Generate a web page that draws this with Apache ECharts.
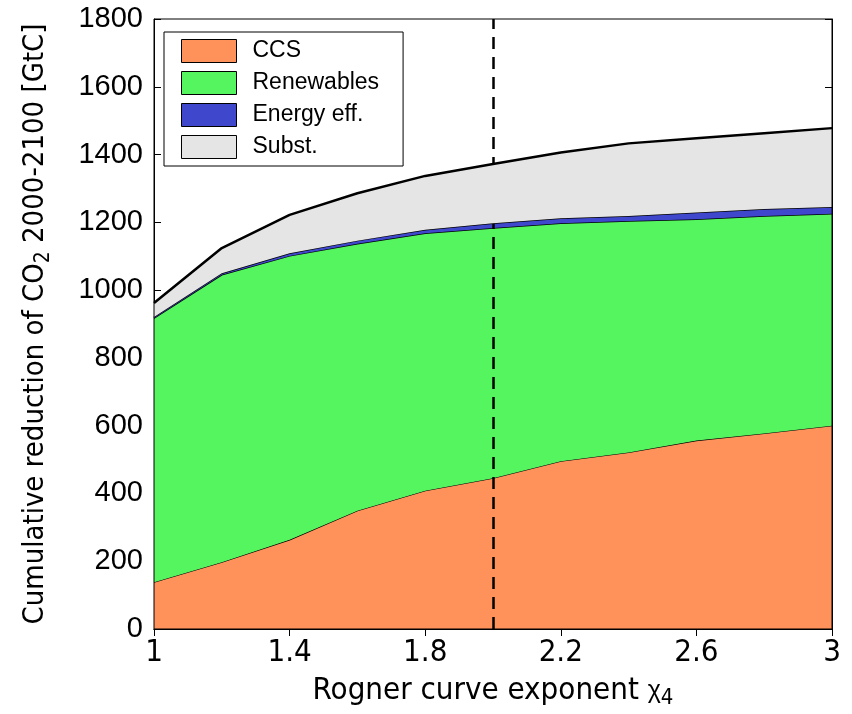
<!DOCTYPE html>
<html>
<head>
<meta charset="utf-8">
<script src="https://cdn.jsdelivr.net/npm/echarts@6/dist/echarts.min.js"></script>
<style>
html,body{margin:0;padding:0;background:#fff;}
#chart{width:852px;height:714px;}
</style>
</head>
<body>
<div id="chart"></div>
<script>
// x values: Rogner curve exponent
const exponents = ['1', '1.2', '1.4', '1.6', '1.8', '2', '2.2', '2.4', '2.6', '2.8', '3'];
// cumulative reduction components [GtC]
const ccs        = [138, 197, 263, 349, 408, 445, 495, 521, 556, 577, 600];
const renewables = [779, 848, 838, 788, 760, 738, 702, 683, 653, 642, 625];
const energyEff  = [4, 5, 8, 9, 10, 14, 15, 15, 20, 20, 20];
const subst      = [41, 74, 113, 140, 159, 175, 194, 214, 219, 224, 233];
const seriesNames = ['CCS', 'Renewables', 'Energy eff.', 'Subst.'];
const yTicks = [0, 200, 400, 600, 800, 1000, 1200, 1400, 1600, 1800];
const referenceExponent = '2';

const fills = ['#FF915A', '#55F55F', '#3F48CC', '#E5E5E5'];
const edgeWidths = [1.2, 1.5, 1.5, 2.5];
const values = [ccs, renewables, energyEff, subst];

const narrow = '"Liberation Sans Narrow", "DejaVu Sans Condensed", "Liberation Sans", Arial, sans-serif';
const normal = '"Liberation Sans", Arial, sans-serif';

const series = values.map((arr, i) => ({
  name: seriesNames[i],
  type: 'line',
  stack: 'total',
  data: arr,
  showSymbol: false,
  symbol: 'none',
  z: 2 + i,
  itemStyle: { color: fills[i] },
  lineStyle: { color: '#000', width: edgeWidths[i] },
  areaStyle: { color: fills[i], opacity: 1 },
  emphasis: { disabled: true },
  animation: false
}));

series.push({
  name: 'ref',
  type: 'line',
  data: [],
  z: 10,
  markLine: {
    silent: true,
    symbol: ['none', 'none'],
    label: { show: false },
    lineStyle: { color: '#000', width: 2.5, type: [12, 8] },
    data: [{ xAxis: referenceExponent }]
  },
  animation: false
});

const catAxisBase = {
  type: 'category',
  data: exponents,
  boundaryGap: false,
  axisLine: { show: true, lineStyle: { color: '#000', width: 1 } },
  axisTick: { show: true, inside: true, length: 7, interval: 1, lineStyle: { color: '#000' } },
  splitLine: { show: false }
};

const chart = echarts.init(document.getElementById('chart'), null, { renderer: 'canvas' });
chart.setOption({
  animation: false,
  backgroundColor: '#fff',
  grid: { left: 154, right: 20, top: 19, bottom: 84, show: true, borderColor: '#000', borderWidth: 1, backgroundColor: 'transparent', z: 20 },
  legend: {
    data: seriesNames,
    orient: 'vertical',
    left: 164,
    top: 32,
    icon: 'rect',
    itemWidth: 55,
    itemHeight: 23,
    itemGap: 8,
    padding: [7, 24, 7, 17],
    backgroundColor: '#fff',
    borderColor: '#000',
    borderWidth: 1,
    itemStyle: { borderColor: '#000', borderWidth: 1 },
    textStyle: { fontFamily: normal, fontSize: 23, color: '#000', padding: [0, 0, 0, 11] },
    selectedMode: false
  },
  xAxis: [Object.assign({}, catAxisBase, {
    name: '{a|Rogner curve exponent }{g|χ}{s|4}',
    nameLocation: 'middle',
    nameGap: 44,
    nameTextStyle: {
      rich: {
        a: { fontFamily: narrow, fontSize: 31, color: '#000' },
        g: { fontFamily: normal, fontSize: 25, color: '#000' },
        s: { fontFamily: narrow, fontSize: 22, color: '#000', padding: [14, 0, 0, 0] }
      }
    },
    axisLabel: { fontFamily: narrow, fontSize: 31, color: '#000', margin: 8, interval: 1 }
  }), Object.assign({}, catAxisBase, {
    position: 'top',
    axisLabel: { show: false }
  })],
  yAxis: [{
    type: 'value',
    min: 0, max: 1800, interval: 200,
    name: '{a|Cumulative reduction of CO}{s|2}{a| 2000-2100 [GtC]}',
    nameLocation: 'middle',
    nameGap: 100,
    nameRotate: 90,
    nameTextStyle: {
      rich: {
        a: { fontFamily: narrow, fontSize: 29, color: '#000' },
        s: { fontFamily: narrow, fontSize: 21, color: '#000', padding: [16, 0, 0, 0] }
      }
    },
    axisLine: { show: true, lineStyle: { color: '#000', width: 1 } },
    axisTick: { show: true, inside: true, length: 7, lineStyle: { color: '#000' } },
    axisLabel: { fontFamily: normal, fontSize: 29, color: '#000', margin: 11,
      formatter: v => yTicks.includes(v) ? String(v) : '' },
    splitLine: { show: false }
  }, {
    type: 'value', position: 'right',
    min: 0, max: 1800, interval: 200,
    axisLine: { show: true, lineStyle: { color: '#000' } },
    axisTick: { show: true, inside: true, length: 7, lineStyle: { color: '#000' } },
    axisLabel: { show: false },
    splitLine: { show: false }
  }],
  series: series
});
</script>
</body>
</html>
